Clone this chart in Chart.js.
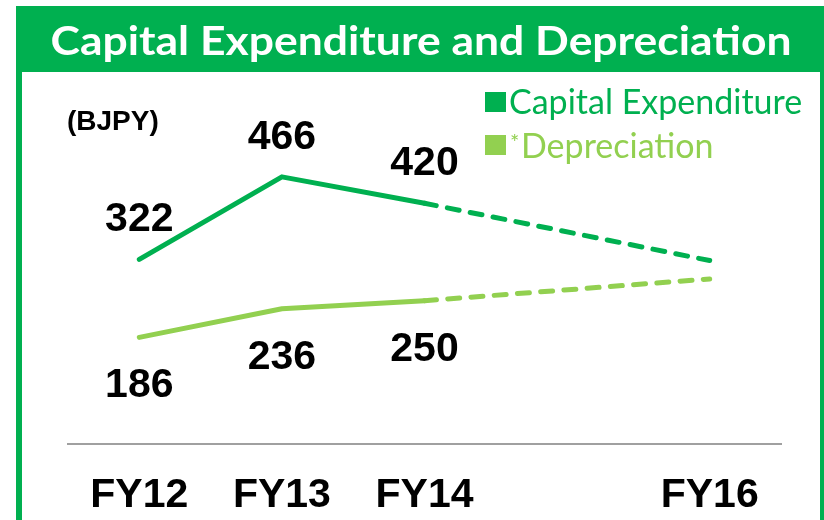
<!DOCTYPE html>
<html>
<head>
<meta charset="utf-8">
<script src="https://cdn.jsdelivr.net/npm/chart.js@4"></script>
<style>
  html, body { margin: 0; padding: 0; background: #ffffff; }
  #capexChart { display: block; }
</style>
</head>
<body>
<canvas id="capexChart" width="824" height="520"></canvas>
<script>
// Chart data (BJPY); FY15 has no point, the dashed line spans it
const categories = ['FY12', 'FY13', 'FY14', 'FY15', 'FY16'];
const tickLabels = ['FY12', 'FY13', 'FY14', '', 'FY16'];
const capexValues = [322, 466, 420, null, 320];
const deprValues = [186, 236, 250, null, 288];
const valueLabelShown = [true, true, true, false, false];
const seriesNames = ['Capital Expenditure', 'Depreciation'];
const titleText = 'Capital Expenditure and Depreciation';
const unitText = '(BJPY)';

const GREEN = '#00B050';
const LIGHT_GREEN = '#92D050';

// dashed from FY14 onwards (forecast)
function forecastDash(ctx) {
    return ctx.p0DataIndex >= 2 ? [12, 11.3] : undefined;
}

// Frame, title bar, unit text, legend and value labels
const decorPlugin = {
    id: 'decor',
    beforeDraw(chart) {
        const c = chart.ctx;
        c.save();
        c.fillStyle = '#ffffff';
        c.fillRect(0, 0, chart.width, chart.height);
        c.fillStyle = GREEN;
        c.fillRect(16, 6, 808, 66);   // title bar
        c.fillRect(16, 6, 6, 514);    // left border
        c.fillRect(820, 6, 4, 514);   // right border

        // title, stretched a little to the width of the original (Calibri-like) title
        c.fillStyle = '#ffffff';
        c.font = 'bold 40px Lato';
        c.textAlign = 'center';
        c.textBaseline = 'alphabetic';
        const w = c.measureText(titleText).width;
        c.save();
        c.translate(421, 55);
        c.scale(741 / w, 1);
        c.fillText(titleText, 0, 0);
        c.restore();

        c.fillStyle = '#000000';
        c.font = 'bold 28px "Liberation Sans", Arial';
        c.textAlign = 'left';
        c.fillText(unitText, 67, 130);
        c.restore();
    },
    afterDraw(chart) {
        const c = chart.ctx;
        c.save();
        // legend
        const ds = chart.data.datasets;
        c.textAlign = 'left';
        c.textBaseline = 'alphabetic';
        c.fillStyle = ds[0].borderColor;
        c.fillRect(485, 92, 21, 20);
        c.font = '34px Lato';
        c.fillText(ds[0].label, 509, 114);

        c.fillStyle = ds[1].borderColor;
        c.fillRect(485, 135, 21, 20);
        c.font = '22px Lato';
        c.fillText('*', 510, 150);
        c.font = '34px Lato';
        c.fillText(ds[1].label, 521, 158);

        // value labels: capex above the line, depreciation below
        c.fillStyle = '#000000';
        c.font = 'bold 41px "Liberation Sans", Arial';
        c.textAlign = 'center';
        chart.getDatasetMeta(0).data.forEach((pt, i) => {
            if (!valueLabelShown[i]) return;
            c.fillText(String(capexValues[i]), pt.x, pt.y - 28);
        });
        chart.getDatasetMeta(1).data.forEach((pt, i) => {
            if (!valueLabelShown[i]) return;
            c.fillText(String(deprValues[i]), pt.x, pt.y + 60);
        });
        c.restore();
    }
};

const ctx = document.getElementById('capexChart').getContext('2d');
new Chart(ctx, {
    type: 'line',
    data: {
        labels: categories,
        datasets: [{
            label: seriesNames[0],
            data: capexValues,
            borderColor: GREEN,
            backgroundColor: GREEN,
            borderWidth: 5,
            borderCapStyle: 'round',
            borderJoinStyle: 'round',
            pointRadius: 0,
            tension: 0,
            spanGaps: true,
            segment: { borderDash: forecastDash }
        }, {
            label: seriesNames[1],
            data: deprValues,
            borderColor: LIGHT_GREEN,
            backgroundColor: LIGHT_GREEN,
            borderWidth: 5,
            borderCapStyle: 'round',
            borderJoinStyle: 'round',
            pointRadius: 0,
            tension: 0,
            spanGaps: true,
            segment: { borderDash: forecastDash }
        }]
    },
    options: {
        responsive: false,
        animation: false,
        devicePixelRatio: 1,
        layout: {
            padding: { left: 68, right: 43, top: 80, bottom: 0 }
        },
        scales: {
            x: {
                offset: true,
                grid: { display: false, drawTicks: false },
                border: { display: true, color: '#A0A0A0', width: 2 },
                ticks: {
                    color: '#000000',
                    padding: 27,
                    autoSkip: false,
                    maxRotation: 0,
                    callback: function (value, index) {
                        return tickLabels[index];
                    },
                    font: { family: '"Liberation Sans", Arial', size: 41, weight: 'bold' }
                },
                afterFit: function (scale) {
                    scale.height = 76;
                }
            },
            y: {
                display: false,
                min: 0,
                max: 635
            }
        },
        plugins: {
            legend: { display: false },
            title: { display: false },
            tooltip: { enabled: false }
        }
    },
    plugins: [decorPlugin]
});
</script>
</body>
</html>
